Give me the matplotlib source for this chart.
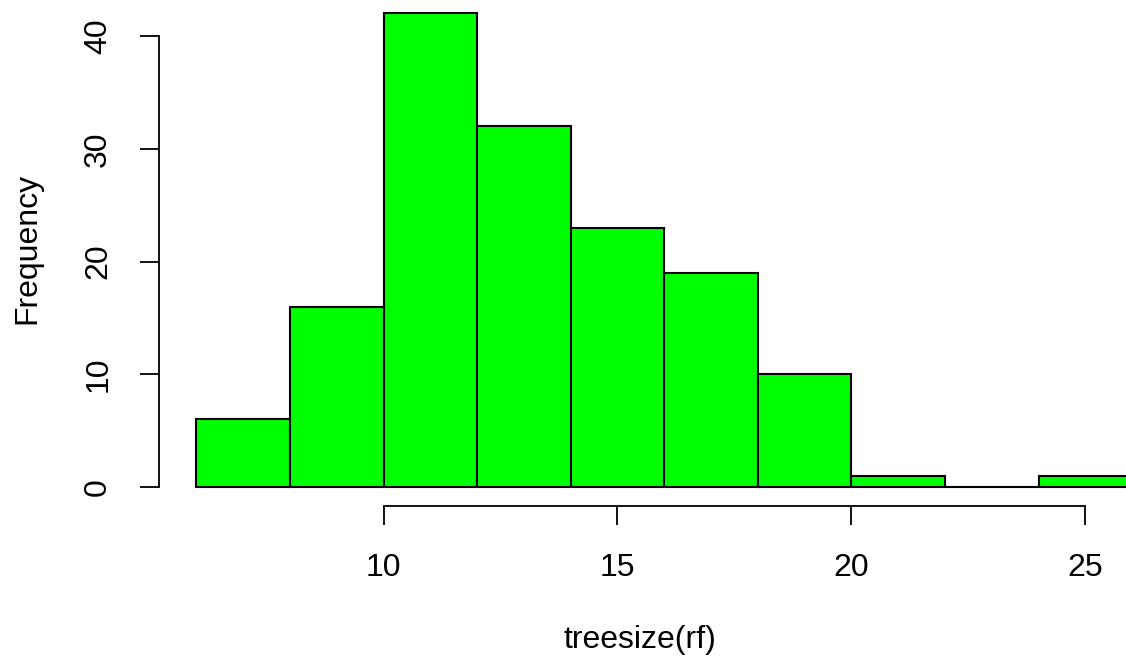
import numpy as np
import matplotlib
matplotlib.use("Agg")
import matplotlib.pyplot as plt

plt.rcParams['font.family'] = ['Liberation Sans', 'DejaVu Sans']

# histogram of tree sizes (bin edges and counts)
breaks = [6, 8, 10, 12, 14, 16, 18, 20, 22, 24, 26]
counts = [6, 16, 42, 32, 23, 19, 10, 1, 0, 1]
xticks = [10, 15, 20, 25]
yticks = [0, 10, 20, 30, 40]

W, H = 1126, 661
fig = plt.figure(figsize=(W / 100, H / 100), dpi=100)

# R-style plot region: range of data extended by 4% on each side
xlo, xhi = breaks[0], breaks[-1]
ylo, yhi = 0, max(counts)
xr = (xlo - 0.04 * (xhi - xlo), xhi + 0.04 * (xhi - xlo))
yr = (ylo - 0.04 * (yhi - ylo), yhi + 0.04 * (yhi - ylo))

left_px, right_px = 159, 1169.5
bottom_px, top_px = 506, -5.5
ax = fig.add_axes([left_px / W, 1 - bottom_px / H,
                   (right_px - left_px) / W, (bottom_px - top_px) / H])
ax.set_xlim(*xr)
ax.set_ylim(*yr)

edges = np.array(breaks)
ax.bar(edges[:-1], counts, width=np.diff(edges), align='edge',
       color='#00ff00', edgecolor='black', linewidth=1.5)

for s in ['top', 'right']:
    ax.spines[s].set_visible(False)
ax.spines['left'].set_bounds(yticks[0], yticks[-1])
ax.spines['bottom'].set_bounds(xticks[0], xticks[-1])
for s in ['left', 'bottom']:
    ax.spines[s].set_linewidth(1.3)

fs = 23
ax.set_xticks(xticks)
ax.set_yticks(yticks)
ax.tick_params(axis='both', length=14, width=1.3, labelsize=fs, color='black')
ax.tick_params(axis='x', pad=20)
ax.tick_params(axis='y', pad=19)
for lab in ax.get_yticklabels():
    lab.set_rotation(90)
    lab.set_va('center')

fig.text(640 / W, 1 - 640 / H, 'treesize(rf)', ha='center', va='center', fontsize=fs)
fig.text(27 / W, 1 - 248 / H, 'Frequency', ha='center', va='center',
         rotation=90, fontsize=fs)

fig.savefig('out.png', dpi=100)
